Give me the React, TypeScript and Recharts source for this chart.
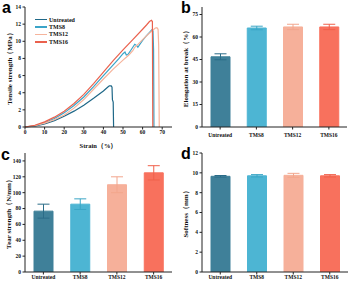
import React from 'react';
import { LineChart, Line, BarChart, Bar, XAxis, YAxis, ErrorBar, Legend } from 'recharts';

const FONT = '"Liberation Serif", "Times New Roman", serif';
const AX = '#222';

const categories = ['Untreated', 'TMS8', 'TMS12', 'TMS16'];
const lineColors = ['#1f6888', '#3aa4c8', '#f6b49c', '#ea614d'];
const barColors = ['#3f8099', '#4db5d3', '#f6b09a', '#f8715d'];
const errColors = ['#2b6c88', '#3aa6c6', '#f2a68d', '#f0604b'];

// panel a: stress-strain curves
const strainUntreated = [0, 5, 10, 15, 20, 25, 30, 35, 40, 42, 43, 44, 44.4, 44.6, 45, 45.2];
const stressUntreated = [0, 0.1, 0.35, 0.75, 1.25, 1.85, 2.55, 3.35, 4.2, 4.6, 4.8, 4.8, 4.65, 3.2, 2.9, 0];
const strainTMS8 = [0, 5, 10, 15, 20, 25, 30, 35, 40, 45, 48, 50, 51, 51.7, 52.5, 54, 56, 57, 57.6, 58.5, 60, 62, 64, 64.8, 65.3, 65.6, 65.8];
const stressTMS8 = [0, 0.15, 0.5, 1.0, 1.65, 2.5, 3.5, 4.7, 6.0, 7.25, 8.0, 8.55, 8.75, 8.4, 8.45, 8.95, 9.65, 9.5, 9.3, 9.6, 10.1, 10.65, 11.15, 11.35, 11.2, 9.0, 0];
const strainTMS12 = [0, 5, 10, 15, 20, 25, 30, 35, 40, 45, 50, 52, 53, 55, 56, 57, 60, 63, 65, 66.5, 67.3, 67.9, 68.2, 68.5];
const stressTMS12 = [0, 0.15, 0.45, 0.85, 1.4, 2.2, 3.2, 4.4, 5.6, 6.75, 7.8, 8.2, 8.4, 8.9, 9.3, 9.5, 10.2, 10.85, 11.25, 11.55, 11.6, 11.4, 9.5, 0];
const strainTMS16 = [0, 5, 10, 15, 20, 25, 30, 35, 40, 45, 50, 55, 60, 62, 63.5, 64.5, 65, 65.2];
const stressTMS16 = [0, 0.2, 0.6, 1.15, 1.85, 2.75, 3.8, 5.05, 6.4, 7.75, 9.0, 10.2, 11.4, 11.9, 12.3, 12.45, 12.3, 0];
const strainTicks = [0, 10, 20, 30, 40, 50, 60, 70];
const stressTicks = [0, 2, 4, 6, 8, 10, 12, 14];

// panel b
const elongation = [46.8, 66.0, 66.7, 66.7];
const elongationErr = [2.0, 1.2, 1.8, 1.8];
const elongationTicks = [0, 15, 30, 45, 60, 75];
// panel c
const tearStrength = [76.7, 85.5, 110, 125];
const tearErr = [8.8, 6.7, 10, 9];
const tearTicks = [0, 20, 40, 60, 80, 100, 120, 140];
// panel d
const softness = [9.65, 9.7, 9.75, 9.7];
const softnessErr = [0.08, 0.12, 0.2, 0.12];
const softnessTicks = [0, 2, 4, 6, 8, 10, 12];

const zip = (xs: number[], ys: number[]) => xs.map((x, i) => ({ x, y: ys[i] }));
const lineSeries = [
  zip(strainUntreated, stressUntreated),
  zip(strainTMS8, stressTMS8),
  zip(strainTMS12, stressTMS12),
  zip(strainTMS16, stressTMS16),
];

const tickStyle = { fontFamily: FONT, fontWeight: 700, fontSize: 5.5, fill: '#111' };
const labelStyle = { fontFamily: FONT, fontWeight: 700, fontSize: 7, fill: '#111', textAnchor: 'middle' as const };

function LegendContent() {
  return (
    <div style={{ fontFamily: FONT, fontWeight: 700, fontSize: 6, color: '#111' }}>
      {categories.map((c, i) => (
        <div key={c} style={{ display: 'flex', alignItems: 'center', height: 7.4 }}>
          <div style={{ width: 12, height: 1.3, background: lineColors[i], marginRight: 2 }} />
          <span>{c}</span>
        </div>
      ))}
    </div>
  );
}

function PanelLetter({ text, left, top }: { text: string; left: number; top: number }) {
  return (
    <div style={{ position: 'absolute', left, top, fontFamily: '"Liberation Sans", Arial, sans-serif', fontWeight: 700, fontSize: 16, lineHeight: '16px', color: '#000' }}>
      {text}
    </div>
  );
}

function BarPanel(props: {
  left: number; top: number; width: number; height: number;
  values: number[]; errs: number[]; domain: [number, number]; ticks: number[];
  label: string; margin: any; xHeight: number; xTickMargin: number;
}) {
  const data = categories.map((name, i) => {
    const row: any = { name };
    categories.forEach((_, j) => {
      row[`v${j}`] = i === j ? props.values[i] : null;
      row[`e${j}`] = i === j ? props.errs[i] : null;
    });
    return row;
  });
  return (
    <div style={{ position: 'absolute', left: props.left, top: props.top }}>
      <BarChart width={props.width} height={props.height} data={data} margin={props.margin} barSize={19}>
        <XAxis dataKey="name" height={props.xHeight} tick={tickStyle} tickSize={2.5} tickMargin={props.xTickMargin}
          axisLine={{ stroke: AX }} tickLine={{ stroke: AX }} interval={0} />
        <XAxis xAxisId="top" dataKey="name" orientation="top" height={0} tick={false} tickLine={false} axisLine={{ stroke: AX }} />
        <YAxis type="number" domain={props.domain} ticks={props.ticks} width={25} tick={tickStyle} tickSize={2.5} tickMargin={1.5}
          axisLine={{ stroke: AX }} tickLine={{ stroke: AX }} allowDataOverflow
          label={{ value: props.label, angle: -90, position: 'insideLeft', offset: 9, style: labelStyle }} />
        <YAxis yAxisId="right" orientation="right" domain={props.domain} width={0} tick={false} tickLine={false} axisLine={{ stroke: AX }} />
        {categories.map((c, j) => (
          <Bar key={c} dataKey={`v${j}`} stackId="s" fill={barColors[j]} stroke={barColors[j]} isAnimationActive={false}>
            <ErrorBar dataKey={`e${j}`} width={6} stroke={errColors[j]} strokeWidth={1} direction="y" />
          </Bar>
        ))}
      </BarChart>
    </div>
  );
}

export default function App() {
  return (
    <div style={{ position: 'absolute', left: 0, top: 0, width: 354, height: 285, background: '#fff', overflow: 'hidden' }}>
      <div style={{ position: 'absolute', left: 0, top: 0 }}>
        <LineChart width={177} height={150} margin={{ top: 7, right: 5, left: 0, bottom: 0 }}>
          <XAxis type="number" dataKey="x" domain={[0, 75]} ticks={strainTicks} height={23} tick={tickStyle} tickSize={2.5} tickMargin={0.5}
            axisLine={{ stroke: AX }} tickLine={{ stroke: AX }} allowDuplicatedCategory={false}
            label={{ value: 'Strain（%）', position: 'insideBottom', offset: 2, style: { ...labelStyle, fontSize: 6.5 } }} />
          <XAxis xAxisId="top" type="number" dataKey="x" orientation="top" domain={[0, 75]} height={0} tick={false} tickLine={false} axisLine={{ stroke: AX }} />
          <YAxis type="number" domain={[0, 14]} ticks={stressTicks} width={25} tick={tickStyle} tickSize={2.5} tickMargin={1.5}
            axisLine={{ stroke: AX }} tickLine={{ stroke: AX }}
            label={{ value: 'Tensile strength（MPa）', angle: -90, position: 'insideLeft', offset: 10, style: labelStyle }} />
          <YAxis yAxisId="right" orientation="right" domain={[0, 14]} width={0} tick={false} tickLine={false} axisLine={{ stroke: AX }} />
          <Legend layout="vertical" align="center" verticalAlign="middle" content={<LegendContent />}
            wrapperStyle={{ left: 35, top: 16, width: 60, height: 32 }} />
          {categories.map((c, i) => (
            <Line key={c} data={lineSeries[i]} dataKey="y" name={c} stroke={lineColors[i]} strokeWidth={1.2}
              dot={false} type="linear" isAnimationActive={false} />
          ))}
        </LineChart>
      </div>
      <BarPanel left={177} top={0} width={177} height={145} values={elongation} errs={elongationErr}
        domain={[0, 80]} ticks={elongationTicks} label="Elongation at break（%）"
        margin={{ top: 7, right: 7, left: 0, bottom: 0 }} xHeight={18} xTickMargin={3.5} />
      <BarPanel left={0} top={140} width={177} height={145} values={tearStrength} errs={tearErr}
        domain={[0, 150]} ticks={tearTicks} label="Tear strength（N/mm）"
        margin={{ top: 13, right: 5, left: 0, bottom: 0 }} xHeight={13} xTickMargin={0.5} />
      <BarPanel left={177} top={140} width={177} height={145} values={softness} errs={softnessErr}
        domain={[0, 12]} ticks={softnessTicks} label="Softness（mm）"
        margin={{ top: 13, right: 6, left: 0, bottom: 0 }} xHeight={13} xTickMargin={0.5} />
      <PanelLetter text="a" left={2} top={0} />
      <PanelLetter text="b" left={181} top={0} />
      <PanelLetter text="c" left={1} top={147} />
      <PanelLetter text="d" left={181} top={146} />
    </div>
  );
}
